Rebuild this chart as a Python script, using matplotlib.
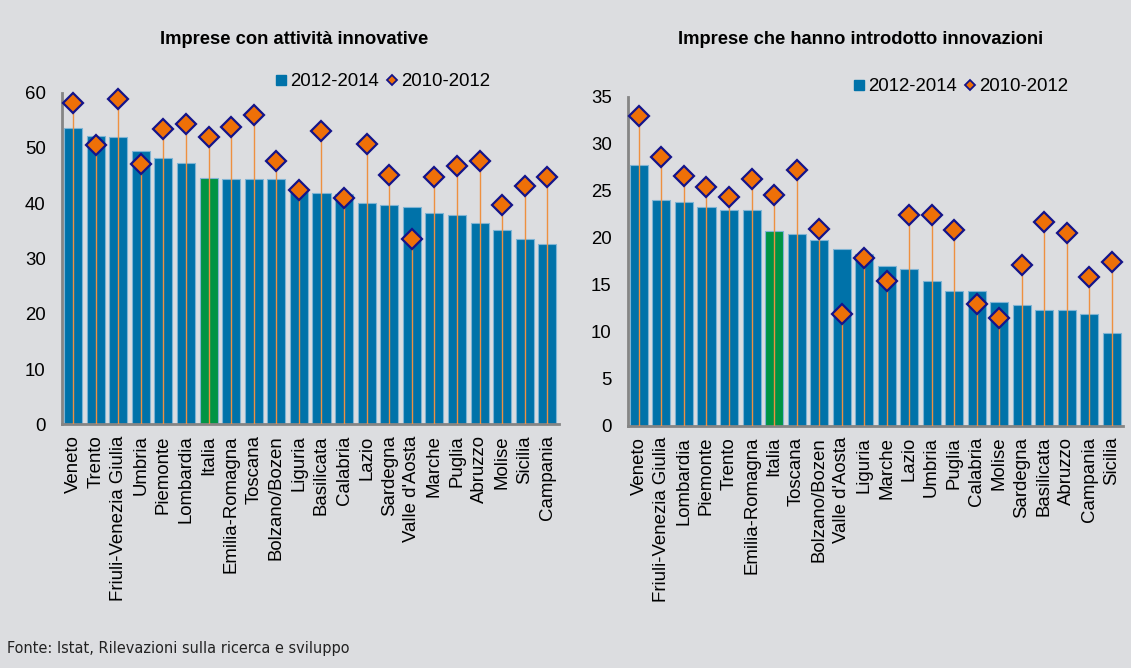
import matplotlib
matplotlib.use('Agg')
import matplotlib.pyplot as plt
from matplotlib.lines import Line2D

plt.rcParams['font.family'] = ['Liberation Sans', 'DejaVu Sans']

# left panel: imprese con attivita innovative
left_regions = ['Veneto', 'Trento', 'Friuli-Venezia Giulia', 'Umbria', 'Piemonte', 'Lombardia',
                'Italia', 'Emilia-Romagna', 'Toscana', 'Bolzano/Bozen', 'Liguria', 'Basilicata',
                'Calabria', 'Lazio', 'Sardegna', "Valle d'Aosta", 'Marche', 'Puglia', 'Abruzzo',
                'Molise', 'Sicilia', 'Campania']
left_2014 = [53.7, 52.2, 52.0, 49.4, 48.2, 47.2, 44.6, 44.3, 44.3, 44.3, 42.1, 41.9,
             41.6, 40.0, 39.6, 39.3, 38.3, 37.9, 36.5, 35.1, 33.5, 32.6]
left_2012 = [58.1, 50.5, 58.9, 47.1, 53.4, 54.4, 51.9, 53.8, 55.9, 47.7, 42.4, 53.1,
             40.9, 50.8, 45.2, 33.5, 44.7, 46.8, 47.6, 39.6, 43.1, 44.8]

# right panel: imprese che hanno introdotto innovazioni
right_regions = ['Veneto', 'Friuli-Venezia Giulia', 'Lombardia', 'Piemonte', 'Trento',
                 'Emilia-Romagna', 'Italia', 'Toscana', 'Bolzano/Bozen', "Valle d'Aosta",
                 'Liguria', 'Marche', 'Lazio', 'Umbria', 'Puglia', 'Calabria', 'Molise',
                 'Sardegna', 'Basilicata', 'Abruzzo', 'Campania', 'Sicilia']
right_2014 = [27.7, 24.0, 23.8, 23.3, 23.0, 23.0, 20.7, 20.4, 19.8, 18.8, 18.3, 17.0,
              16.7, 15.4, 14.3, 14.3, 13.2, 12.8, 12.3, 12.3, 11.9, 9.9]
right_2012 = [32.9, 28.6, 26.6, 25.4, 24.3, 26.3, 24.5, 27.2, 20.9, 11.9, 17.8, 15.4,
              22.4, 22.4, 20.8, 13.0, 11.5, 17.1, 21.7, 20.5, 15.8, 17.4]

BG = '#dcdde0'
BLUE = '#0072a9'
GREEN = '#009444'
ORANGE = '#ee7008'
NAVY = '#14148a'
LINE = '#ee9040'

fig = plt.figure(figsize=(11.31, 6.68), dpi=100, facecolor=BG)

def panel(rect, regions, v14, v12, ymax, step, title, title_xy, leg_xy):
    ax = fig.add_axes(rect)
    ax.set_facecolor(BG)
    x = list(range(len(regions)))
    colors = [GREEN if r == 'Italia' else BLUE for r in regions]
    ax.bar(x, v14, width=0.8, color=colors, edgecolor='#7fb4d4', linewidth=0.8, zorder=2)
    ax.vlines(x, 0, v12, color=LINE, linewidth=1.0, zorder=3)
    ax.plot(x, v12, linestyle='none', marker='D', markersize=10.3, markerfacecolor=ORANGE,
            markeredgecolor=NAVY, markeredgewidth=1.6, zorder=4, clip_on=False)
    ax.set_xlim(-0.5, len(regions) - 0.5)
    ax.set_ylim(0, ymax)
    ax.set_yticks(range(0, ymax + 1, step))
    ax.set_xticks(x)
    ax.set_xticklabels(regions, rotation=90, fontsize=13.4)
    ax.tick_params(axis='y', length=0, labelsize=13.4, pad=11.5)
    ax.tick_params(axis='x', length=0, pad=8)
    for s in ['top', 'right']:
        ax.spines[s].set_visible(False)
    for s in ['left', 'bottom']:
        ax.spines[s].set_color('#858585')
        ax.spines[s].set_linewidth(2)
    fig.text(title_xy[0], title_xy[1], title, ha='center', va='center',
             fontsize=13.2, fontweight='bold')
    handles = [Line2D([], [], linestyle='none', marker='s', markersize=6.5,
                      markerfacecolor=BLUE, markeredgecolor=BLUE),
               Line2D([], [], linestyle='none', marker='D', markersize=5.5,
                      markerfacecolor=ORANGE, markeredgecolor=NAVY, markeredgewidth=1.3)]
    fig.legend(handles, ['2012-2014', '2010-2012'], loc='center', bbox_to_anchor=leg_xy,
               ncol=2, frameon=False, fontsize=13.4, handlelength=0.6, handletextpad=0.2,
               columnspacing=0.4, borderpad=0)
    return ax

panel([0.0546, 0.3648, 0.4393, 0.4964], left_regions, left_2014, left_2012, 60, 10,
      'Imprese con attività innovative', (294.3 / 1131, 1 - 39 / 668),
      (382.5 / 1131, 1 - 81.7 / 668))
panel([0.555, 0.3627, 0.4379, 0.4925], right_regions, right_2014, right_2012, 35, 5,
      'Imprese che hanno introdotto innovazioni', (861 / 1131, 1 - 39 / 668),
      (961 / 1131, 1 - 86.7 / 668))

fig.text(7 / 1131, 1 - 648 / 668, 'Fonte: Istat, Rilevazioni sulla ricerca e sviluppo',
         ha='left', va='center', fontsize=11.6, color='#222222',
         family='DejaVu Sans', stretch='condensed')

plt.savefig('out.png', dpi=100, facecolor=BG)
plt.close()
